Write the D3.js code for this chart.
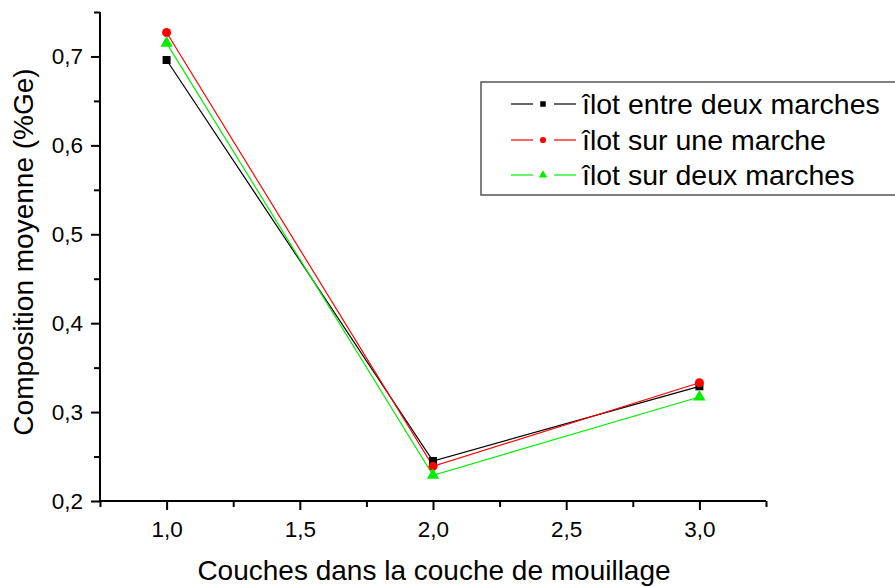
<!DOCTYPE html>
<html><head><meta charset="utf-8">
<script src="https://cdn.jsdelivr.net/npm/d3@7"></script>
<style>body{margin:0;background:#fff}svg{display:block}text{font-family:"Liberation Sans",Arial,sans-serif}</style>
</head><body><div id="c"></div>
<script>
const categories = [1.0, 2.0, 3.0];
const seriesNames = ["îlot entre deux marches", "îlot sur une marche", "îlot sur deux marches"];
const seriesColors = ["#000000", "#ff0000", "#00ee00"];
const seriesSymbols = ["square", "circle", "triangle"];
const blackValues = [0.696, 0.245, 0.329];
const redValues = [0.727, 0.239, 0.333];
const greenValues = [0.715, 0.229, 0.317];
const xTicks = [1.0, 1.5, 2.0, 2.5, 3.0];
const yTicks = [0.2, 0.3, 0.4, 0.5, 0.6, 0.7];
const xLabel = "Couches dans la couche de mouillage";
const yLabel = "Composition moyenne (%Ge)";
const seriesValues = [blackValues, redValues, greenValues];

const W = 895, H = 587;
const svg = d3.select("#c").append("svg").attr("width", W).attr("height", H);
const x = d3.scaleLinear().domain([0.75, 3.25]).range([100, 766]);
const y = d3.scaleLinear().domain([0.2, 0.75]).range([501, 12]);
const fmt = d => d.toFixed(1).replace(".", ",");

// x axis
const xAxis = d3.axisBottom(x).tickValues(xTicks).tickFormat(fmt).tickSize(9).tickPadding(11);
const gx = svg.append("g").attr("transform", "translate(0,501)").call(xAxis);
gx.select(".domain").attr("stroke-width", 2).attr("d", "M100,0H766");
gx.selectAll(".tick line").attr("stroke-width", 2);
gx.selectAll("text").attr("font-size", 22.5).attr("fill", "#000");
const xMinor = d3.axisBottom(x).tickValues([0.75,1.25,1.75,2.25,2.75,3.25]).tickFormat("").tickSize(6);
const gxm = svg.append("g").attr("transform", "translate(0,501)").call(xMinor);
gxm.select(".domain").remove();
gxm.selectAll(".tick line").attr("stroke-width", 2);

// y axis
const yAxis = d3.axisLeft(y).tickValues(yTicks).tickFormat(fmt).tickSize(9).tickPadding(8);
const gy = svg.append("g").attr("transform", "translate(100,0)").call(yAxis);
gy.select(".domain").attr("stroke-width", 2).attr("d", "M0,12V501");
gy.selectAll(".tick line").attr("stroke-width", 2);
gy.selectAll("text").attr("font-size", 22.5).attr("fill", "#000");
const yMinor = d3.axisLeft(y).tickValues([0.25,0.35,0.45,0.55,0.65,0.75]).tickFormat("").tickSize(6);
const gym = svg.append("g").attr("transform", "translate(100,0)").call(yMinor);
gym.select(".domain").remove();
gym.selectAll(".tick line").attr("stroke-width", 2);

// labels
svg.append("text").attr("x", 434).attr("y", 580).attr("text-anchor", "middle").attr("font-size", 28).text(xLabel);
svg.append("text").attr("transform", "translate(33,252) rotate(-90)").attr("text-anchor", "middle").attr("font-size", 28).text(yLabel);

function sym(type, size) {
  const t = type === "square" ? d3.symbolSquare : type === "circle" ? d3.symbolCircle : d3.symbolTriangle;
  return d3.symbol().type(t).size(size)();
}

const line = d3.line().x((d, i) => x(categories[i])).y(d => y(d));
seriesValues.forEach((vals, s) => {
  svg.append("path").attr("d", line(vals)).attr("fill", "none").attr("stroke", seriesColors[s]).attr("stroke-width", 1.2);
});
seriesValues.forEach((vals, s) => {
  svg.selectAll(null).data(vals).enter().append("path")
    .attr("d", sym(seriesSymbols[s], 64))
    .attr("transform", (d, i) => `translate(${x(categories[i])},${y(d)})`)
    .attr("fill", seriesColors[s]);
});

// legend
svg.append("rect").attr("x", 481).attr("y", 82).attr("width", 420).attr("height", 113)
  .attr("fill", "none").attr("stroke", "#555").attr("stroke-width", 1.5);
const rowsY = [104, 140, 175];
seriesNames.forEach((n, s) => {
  const g = svg.append("g").attr("transform", `translate(0,${rowsY[s]})`);
  g.append("line").attr("x1", 511).attr("x2", 533).attr("stroke", seriesColors[s]).attr("stroke-width", 1.2);
  g.append("line").attr("x1", 554).attr("x2", 576).attr("stroke", seriesColors[s]).attr("stroke-width", 1.2);
  g.append("path").attr("d", sym(seriesSymbols[s], 30)).attr("transform", "translate(543,0)").attr("fill", seriesColors[s]);
  g.append("text").attr("x", 582).attr("y", 10).attr("font-size", 28.5).text(n);
});
</script></body></html>
